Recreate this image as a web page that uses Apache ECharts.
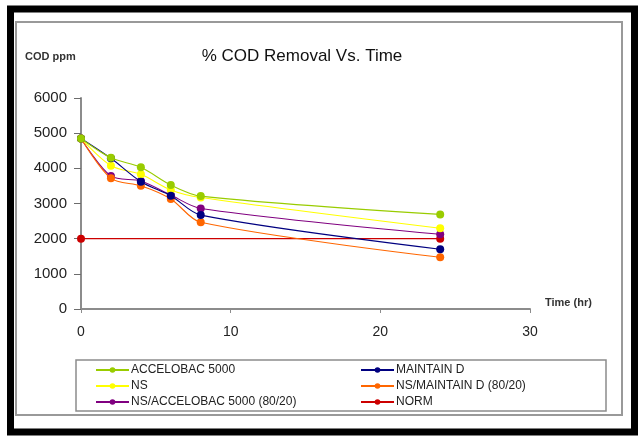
<!DOCTYPE html>
<html>
<head>
<meta charset="utf-8">
<script src="https://cdn.jsdelivr.net/npm/echarts@6/dist/echarts.min.js"></script>
<style>
  html, body { margin: 0; padding: 0; background: #fff; }
  #chart { width: 638px; height: 436px; }
</style>
</head>
<body>
<div id="chart"></div>
<script>
// Sampling times (hours)
const times = [0, 2, 4, 6, 8, 24];

// COD (ppm) for each treatment
const accelobac = [4850, 4300, 4030, 3525, 3210, 2690];
const maintainD = [4850, 4285, 3620, 3220, 2670, 1700];
const ns = [4850, 4075, 3830, 3385, 3170, 2295];
const nsMaintain = [4850, 3715, 3505, 3130, 2465, 1470];
const nsAccelobac = [4850, 3780, 3640, 3240, 2860, 2125];
const normTimes = [0, 24];
const normValues = [2000, 2000];

const seriesNames = [
  'ACCELOBAC 5000',
  'MAINTAIN D',
  'NS',
  'NS/MAINTAIN D (80/20)',
  'NS/ACCELOBAC 5000 (80/20)',
  'NORM'
];

const yTicks = [0, 1000, 2000, 3000, 4000, 5000, 6000];
const xTicks = [0, 10, 20, 30];

const colors = ['#99CC00', '#000080', '#FFFF00', '#FF6600', '#800080', '#CC0000'];

function pairs(xs, ys) {
  return xs.map((x, i) => [x, ys[i]]);
}

const seriesData = [
  pairs(times, accelobac),
  pairs(times, maintainD),
  pairs(times, ns),
  pairs(times, nsMaintain),
  pairs(times, nsAccelobac),
  pairs(normTimes, normValues)
];

const chart = echarts.init(document.getElementById('chart'), null, { renderer: 'canvas' });

// Legend entries laid out in a 3 x 2 grid
const legendPos = [
  [95, 364], [360, 364],
  [95, 380], [360, 380],
  [95, 396], [360, 396]
];

const legends = seriesNames.map((name, k) => ({
  data: [name],
  left: legendPos[k][0],
  top: legendPos[k][1],
  itemWidth: 33,
  itemHeight: 7,
  itemGap: 2,
  padding: 0,
  selectedMode: false,
  textStyle: { fontFamily: 'Liberation Sans, Arial, sans-serif', fontSize: 12, color: '#222', padding: [0, 0, 0, -3] }
}));

const series = seriesData.map((d, i) => ({
  name: seriesNames[i],
  type: 'line',
  data: d,
  smooth: i === 5 ? false : 0.3,
  symbol: 'circle',
  symbolSize: 8,
  color: colors[i],
  lineStyle: { width: 1.1, color: colors[i] },
  itemStyle: { color: colors[i] },
  z: i === 5 ? 1 : 2 + (5 - i),
  animation: false
}));

chart.setOption({
  animation: false,
  backgroundColor: '#fff',
  grid: { left: 81, right: 108, top: 98, bottom: 127, containLabel: false },
  legend: legends,
  xAxis: {
    type: 'value',
    min: 0,
    max: 30,
    interval: 10,
    axisLine: { show: true, lineStyle: { color: '#8c8c8c', width: 2 } },
    axisTick: { show: true, length: 4, lineStyle: { color: '#8c8c8c' } },
    axisLabel: {
      margin: 16,
      fontFamily: 'Liberation Sans, Arial, sans-serif',
      fontSize: 14,
      color: '#222',
      formatter: v => (xTicks.indexOf(v) >= 0 ? String(v) : '')
    },
    splitLine: { show: false }
  },
  yAxis: {
    type: 'value',
    min: 0,
    max: 6000,
    interval: 1000,
    axisLine: { show: true, lineStyle: { color: '#8c8c8c', width: 2 } },
    axisTick: { show: true, length: 7, lineStyle: { color: '#6c6c6c' } },
    axisLabel: {
      margin: 14,
      fontFamily: 'Liberation Sans, Arial, sans-serif',
      fontSize: 15,
      color: '#222',
      formatter: v => (yTicks.indexOf(v) >= 0 ? String(v) : '')
    },
    splitLine: { show: false }
  },
  series: series,
  graphic: [
    // outer black frame
    {
      type: 'rect', silent: true, z: 100,
      shape: { x: 10.5, y: 9, width: 624, height: 423 },
      style: { fill: 'none', stroke: '#000', lineWidth: 7 }
    },
    // inner grey frame
    {
      type: 'rect', silent: true, z: 100,
      shape: { x: 16, y: 22, width: 606, height: 393 },
      style: { fill: 'none', stroke: '#999', lineWidth: 2 }
    },
    // legend box
    {
      type: 'rect', silent: true, z: 100,
      shape: { x: 76, y: 360, width: 530, height: 51 },
      style: { fill: 'none', stroke: '#8c8c8c', lineWidth: 1.5 }
    },
    {
      type: 'text', z: 100, x: 302, y: 48,
      style: {
        text: '% COD Removal Vs. Time',
        fontFamily: 'Liberation Sans, Arial, sans-serif',
        fontSize: 17, fill: '#111', align: 'center', textAlign: 'center'
      }
    },
    {
      type: 'text', z: 100, x: 25, y: 51,
      style: {
        text: 'COD ppm',
        fontFamily: 'Liberation Sans, Arial, sans-serif',
        fontSize: 11, fontWeight: 'bold', fill: '#333'
      }
    },
    {
      type: 'text', z: 100, x: 545, y: 297,
      style: {
        text: 'Time (hr)',
        fontFamily: 'Liberation Sans, Arial, sans-serif',
        fontSize: 11, fontWeight: 'bold', fill: '#333'
      }
    }
  ]
});
</script>
</body>
</html>
